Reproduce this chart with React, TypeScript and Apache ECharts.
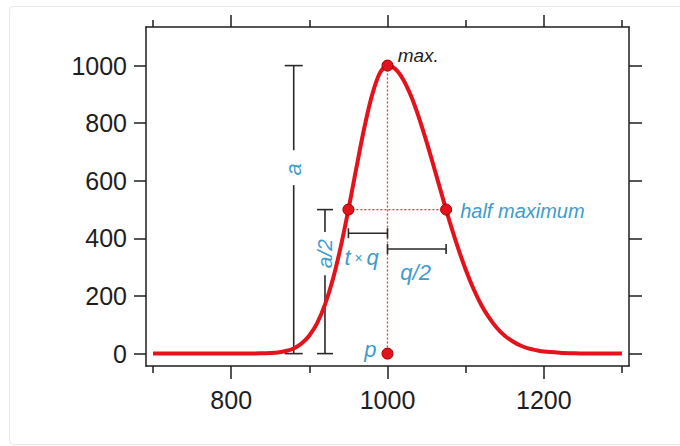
import React, { useEffect, useRef } from "react";
import * as echarts from "echarts";

// Peak profile
const curveX = [700, 750, 800, 820, 840, 850, 860, 870, 880, 890, 900, 910, 920, 930, 940, 950, 960, 970, 980, 990, 1000,
  1010, 1020, 1030, 1040, 1050, 1060, 1070, 1075, 1080, 1090, 1100, 1110, 1120, 1130, 1140, 1150, 1160, 1170, 1180, 1190,
  1200, 1220, 1240, 1260, 1300];
const curveY = [0, 0, 0, 0, 1, 2, 4, 9, 18, 35, 63, 106, 170, 257, 369, 500, 642, 780, 895, 973, 1000,
  988, 952, 895, 821, 735, 642, 547, 500, 454, 369, 292, 225, 169, 125, 89, 62, 43, 28, 18, 12,
  7, 3, 1, 0, 0];

// Marked points: max, left half max, right half max, position p
const markerX = [1000, 950, 1075, 1000];
const markerY = [1000, 500, 500, 0];

const xMajorTicks = [800, 1000, 1200];
const xMinorTicks = [700, 900, 1100, 1300];
const yTicks = [0, 200, 400, 600, 800, 1000];

// Annotation values (data units)
const barA = { x: 880, from: 0, to: 1000, gapLow: 585, gapHigh: 706, labelY: 640 };
const barHalf = { x: 920, from: 0, to: 500, gapLow: 272, gapHigh: 422, labelY: 347 };
const barTQ = { y: 418, from: 950, to: 1000 };
const barQ2 = { y: 363, from: 1000, to: 1075 };
const labelTQ = { x: 967, y: 332 };
const labelQ2 = { x: 1036, y: 283 };
const labelP = { x: 978, y: 16 };
const labelMax = { x: 1013, y: 1035 };
const labelHalf = { x: 1093, y: 495 };

const X_MIN = 691;
const X_MAX = 1309;
const Y_MIN = -43;
const Y_MAX = 1134;

const BLUE = "#3f9ccb";
const RED = "#e3121b";
const INK = "#1e1e1e";
const FONT = '"Liberation Sans", Arial, sans-serif';

export default function App() {
  const ref = useRef<HTMLDivElement>(null);

  useEffect(() => {
    document.body.style.margin = "0";
    if (!ref.current) return;
    const chart = echarts.init(ref.current, undefined, { renderer: "svg" });

    const axisLine = { show: true, onZero: false, lineStyle: { color: INK, width: 1.5 } };
    const tickStyle = { color: INK, width: 1.5 };
    const plain = (v: number) => String(v);

    const baseX = { type: "value", min: X_MIN, max: X_MAX, gridIndex: 0, splitLine: { show: false } };
    const baseY = { type: "value", min: Y_MIN, max: Y_MAX, gridIndex: 0, splitLine: { show: false } };

    const renderAnnotations = (params: any, api: any) => {
      const c = (x: number, y: number) => api.coord([x, y]);
      const children: any[] = [];
      const seg = (p1: number[], p2: number[], style: any) =>
        children.push({ type: "line", shape: { x1: p1[0], y1: p1[1], x2: p2[0], y2: p2[1] }, style });
      const dotted = { stroke: "#e8343c", lineWidth: 1.3, lineDash: [2, 2] };
      const black = { stroke: "#2a2a2a", lineWidth: 1.6 };

      // dotted guides
      seg(c(markerX[0], markerY[0]), c(markerX[3], markerY[3]), dotted);
      seg(c(markerX[1], markerY[1]), c(markerX[2], markerY[2]), dotted);

      // vertical bars with caps
      const vbar = (b: any, cap: number) => {
        const top = c(b.x, b.to);
        const bot = c(b.x, b.from);
        const gl = c(b.x, b.gapLow);
        const gh = c(b.x, b.gapHigh);
        seg(top, gh, black);
        seg(gl, bot, black);
        seg([top[0] - cap, top[1]], [top[0] + cap, top[1]], black);
        seg([bot[0] - cap, bot[1]], [bot[0] + cap, bot[1]], black);
      };
      vbar(barA, 9);
      vbar(barHalf, 8);

      // horizontal bars with caps
      const hbar = (b: any, cap: number) => {
        const l = c(b.from, b.y);
        const r = c(b.to, b.y);
        seg(l, r, black);
        seg([l[0], l[1] - cap], [l[0], l[1] + cap], black);
        seg([r[0], r[1] - cap], [r[0], r[1] + cap], black);
      };
      hbar(barTQ, 5);
      hbar(barQ2, 5);

      const text = (p: number[], t: string, opts: any = {}) =>
        children.push({
          type: "text",
          x: p[0],
          y: p[1],
          rotation: opts.rotation || 0,
          style: {
            text: t,
            fill: opts.fill || BLUE,
            font: `italic ${opts.size || 20}px ${FONT}`,
            align: opts.align || "center",
            verticalAlign: "middle",
            rich: opts.rich,
          },
        });

      text(c(barA.x, barA.labelY), "a", { rotation: Math.PI / 2, size: 22 });
      text(c(barHalf.x, barHalf.labelY), "a/2", { rotation: Math.PI / 2, size: 21 });
      text(c(labelTQ.x, labelTQ.y), "{i|t}{s| × }{i|q}", {
        rich: {
          i: { font: `italic 22px ${FONT}`, fill: BLUE },
          s: { font: `14px ${FONT}`, fill: BLUE },
        },
      });
      text(c(labelQ2.x, labelQ2.y), "q/2", { size: 22 });
      text(c(labelP.x, labelP.y), "p", { size: 22 });
      text(c(labelMax.x, labelMax.y), "max.", { size: 19, fill: INK, align: "left" });
      text(c(labelHalf.x, labelHalf.y), "half maximum", { size: 20, align: "left" });

      return { type: "group", children };
    };

    chart.setOption({
      animation: false,
      backgroundColor: "#ffffff",
      grid: { left: 146, top: 27, width: 483, height: 339, containLabel: false },
      graphic: [
        {
          type: "rect",
          left: 7,
          top: 4,
          shape: { width: 700, height: 438, r: 4 },
          style: { fill: "none", stroke: "#e6e6e6", lineWidth: 1 },
          silent: true,
        },
      ],
      xAxis: [
        {
          ...baseX,
          position: "bottom",
          axisLine,
          axisTick: { show: true, customValues: xMajorTicks, length: 13, lineStyle: tickStyle },
          axisLabel: { show: true, customValues: xMajorTicks, formatter: plain, fontSize: 25, color: INK, fontFamily: FONT, margin: 21 },
        },
        {
          ...baseX,
          position: "bottom",
          axisLine: { show: false, onZero: false },
          axisTick: { show: true, customValues: xMinorTicks, length: 7, lineStyle: tickStyle },
          axisLabel: { show: false },
        },
        {
          ...baseX,
          position: "top",
          axisLine,
          axisTick: { show: true, customValues: xMajorTicks, length: 12, lineStyle: tickStyle },
          axisLabel: { show: false },
        },
        {
          ...baseX,
          position: "top",
          axisLine: { show: false, onZero: false },
          axisTick: { show: true, customValues: xMinorTicks, length: 7, lineStyle: tickStyle },
          axisLabel: { show: false },
        },
      ],
      yAxis: [
        {
          ...baseY,
          position: "left",
          axisLine,
          axisTick: { show: true, customValues: yTicks, length: 12, lineStyle: tickStyle },
          axisLabel: { show: true, customValues: yTicks, formatter: plain, fontSize: 25, color: INK, fontFamily: FONT, margin: 19 },
        },
        {
          ...baseY,
          position: "right",
          axisLine,
          axisTick: { show: true, customValues: yTicks, length: 13, lineStyle: tickStyle },
          axisLabel: { show: false },
        },
      ],
      series: [
        {
          type: "custom",
          xAxisIndex: 0,
          yAxisIndex: 0,
          data: [[1000, 0]],
          renderItem: renderAnnotations,
          z: 1,
          silent: true,
        },
        {
          type: "line",
          xAxisIndex: 0,
          yAxisIndex: 0,
          data: curveX.map((x, i) => [x, curveY[i]]),
          showSymbol: false,
          smooth: 0.3,
          lineStyle: { color: RED, width: 4 },
          z: 3,
          silent: true,
        },
        {
          type: "scatter",
          xAxisIndex: 0,
          yAxisIndex: 0,
          data: markerX.map((x, i) => [x, markerY[i]]),
          symbolSize: 11,
          itemStyle: { color: RED, borderColor: "#a30000", borderWidth: 1, opacity: 1 },
          z: 4,
          silent: true,
        },
      ],
    });

    return () => chart.dispose();
  }, []);

  return <div ref={ref} style={{ width: 680, height: 446 }} />;
}
